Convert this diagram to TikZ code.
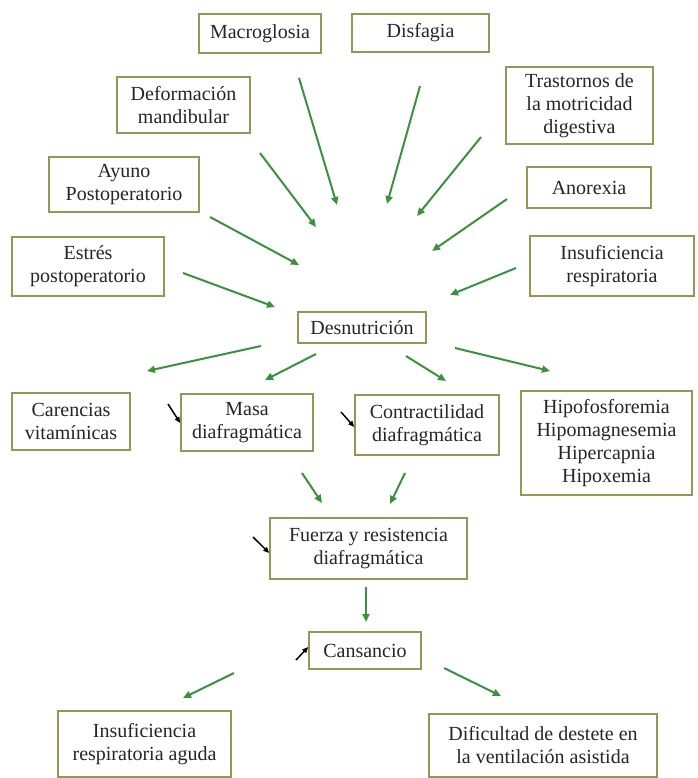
\documentclass[tikz,border=0pt]{standalone}
\usepackage{fontspec}
\setmainfont{Liberation Serif}
\usetikzlibrary{arrows.meta}
\definecolor{boxline}{RGB}{150,150,85}
\definecolor{flowgreen}{RGB}{58,145,62}
\begin{document}
\begin{tikzpicture}[x=1pt,y=-1pt,
    causa/.style={draw=boxline,line width=1.5pt,fill=white,align=center,inner sep=0pt,
      text=black!85,font=\fontsize{20}{23}\selectfont},
    flecha/.style={draw=flowgreen,line width=2pt,-{Triangle[length=8pt,width=7pt]}},
    baja/.style={draw=black,line width=1.5pt,-{Triangle[length=6pt,width=5pt]}}]
  \useasboundingbox (0,0) rectangle (697,778);
  \node[causa,minimum width=122,minimum height=39] (macro) at (260,33.5) {Macroglosia};
  \node[causa,minimum width=137,minimum height=38] (disfagia) at (420.5,33) {Disfagia};
  \node[causa,minimum width=133,minimum height=56] (deform) at (183.5,105) {Deformación\\mandibular};
  \node[causa,minimum width=147,minimum height=77] (trast) at (579.5,105.5) {Trastornos de\\la motricidad\\digestiva};
  \node[causa,minimum width=150,minimum height=55] (ayuno) at (124,184.5) {Ayuno\\Postoperatorio};
  \node[causa,minimum width=124,minimum height=41] (anorexia) at (589,187.5) {Anorexia};
  \node[causa,minimum width=152,minimum height=59] (estres) at (88,266.5) {Estrés\\postoperatorio};
  \node[causa,minimum width=164,minimum height=60] (insres) at (612,266) {Insuficiencia\\respiratoria};
  \node[causa,minimum width=128,minimum height=31] (desnut) at (362,327.5) {Desnutrición};
  \node[causa,minimum width=118,minimum height=57] (carenc) at (71,421.5) {Carencias\\vitamínicas};
  \node[causa,minimum width=132,minimum height=57] (masa) at (247,422.5) {Masa\\diafragmática};
  \node[causa,minimum width=144,minimum height=60] (contr) at (427,425) {Contractilidad\\diafragmática};
  \node[causa,minimum width=171,minimum height=104] (hipo) at (606.5,443) {Hipofosforemia\\Hipomagnesemia\\Hipercapnia\\Hipoxemia};
  \node[causa,minimum width=197,minimum height=61] (fuerza) at (368.5,548.5) {Fuerza y resistencia\\diafragmática};
  \node[causa,minimum width=112,minimum height=37] (cansa) at (365,650.5) {Cansancio};
  \node[causa,minimum width=173,minimum height=66] (insag) at (144.5,744) {Insuficiencia\\respiratoria aguda};
  \node[causa,minimum width=228,minimum height=63] (dific) at (543,745.5) {Dificultad de destete en\\la ventilación asistida};
  \coordinate (macro-a) at (299,78);   \coordinate (macro-b) at (337,205);
  \coordinate (disfagia-a) at (420,86); \coordinate (disfagia-b) at (387,204);
  \coordinate (deform-a) at (260,153); \coordinate (deform-b) at (316,227);
  \coordinate (ayuno-a) at (210,217);  \coordinate (ayuno-b) at (299,265);
  \coordinate (estres-a) at (183,273); \coordinate (estres-b) at (275,307);
  \coordinate (trast-a) at (481,137);  \coordinate (trast-b) at (417,216);
  \coordinate (anorexia-a) at (507,199); \coordinate (anorexia-b) at (432,251);
  \coordinate (insres-a) at (516,268); \coordinate (insres-b) at (450,295);
  \coordinate (carenc-a) at (261,346); \coordinate (carenc-b) at (147,371);
  \coordinate (masa-a) at (316,354);   \coordinate (masa-b) at (265,380);
  \coordinate (contr-a) at (406,356);  \coordinate (contr-b) at (446,381);
  \coordinate (hipo-a) at (455,348);   \coordinate (hipo-b) at (550,371);
  \coordinate (masaf-a) at (302,473);  \coordinate (masaf-b) at (322,503);
  \coordinate (contrf-a) at (405,473); \coordinate (contrf-b) at (390,504);
  \coordinate (fuerza-a) at (366,587); \coordinate (fuerza-b) at (366,622);
  \coordinate (insag-a) at (234,673);  \coordinate (insag-b) at (183,698);
  \coordinate (dific-a) at (444,668);  \coordinate (dific-b) at (501,696);
  \draw[flecha] (macro-a) -- (macro-b);
  \draw[flecha] (disfagia-a) -- (disfagia-b);
  \draw[flecha] (deform-a) -- (deform-b);
  \draw[flecha] (ayuno-a) -- (ayuno-b);
  \draw[flecha] (estres-a) -- (estres-b);
  \draw[flecha] (trast-a) -- (trast-b);
  \draw[flecha] (anorexia-a) -- (anorexia-b);
  \draw[flecha] (insres-a) -- (insres-b);
  \draw[flecha] (carenc-a) -- (carenc-b);
  \draw[flecha] (masa-a) -- (masa-b);
  \draw[flecha] (contr-a) -- (contr-b);
  \draw[flecha] (hipo-a) -- (hipo-b);
  \draw[flecha] (masaf-a) -- (masaf-b);
  \draw[flecha] (contrf-a) -- (contrf-b);
  \draw[flecha] (fuerza-a) -- (fuerza-b);
  \draw[flecha] (insag-a) -- (insag-b);
  \draw[flecha] (dific-a) -- (dific-b);
  \draw[baja] (168,404) -- (masa.west |- 0,423);
  \draw[baja] (341,412) -- (contr.west |- 0,427);
  \draw[baja] (253,537) -- (fuerza.west |- 0,553);
  \draw[baja] (296,660) -- (cansa.west |- 0,647);
\end{tikzpicture}
\end{document}
